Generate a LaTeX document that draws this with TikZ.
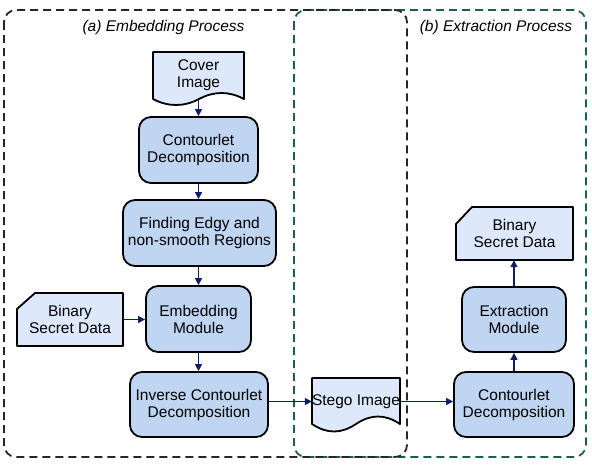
\documentclass[tikz,border=0pt]{standalone}
\usepackage{fontspec}
\setmainfont{Liberation Sans}
\usetikzlibrary{arrows.meta,calc}
\definecolor{boxfill}{RGB}{192,213,241}
\definecolor{docfill}{RGB}{221,233,250}
\definecolor{arrowc}{RGB}{18,28,110}
\definecolor{tealc}{RGB}{25,95,85}
\begin{document}
\begin{tikzpicture}[x=1pt,y=-1pt,
  every node/.style={font=\fontsize{15.5}{17}\selectfont, align=center, text=black},
  proc/.style={draw=black, line width=1.8pt, fill=boxfill, rounded corners=12pt, inner sep=0pt},
  lab/.style={draw=none, inner sep=0pt},
  shapeln/.style={draw=black, line width=1.8pt, fill=docfill, line join=round},
  flow/.style={draw=arrowc, line width=1.4pt, -{Triangle[length=7pt,width=7pt]}},
  bound/.style={dash pattern=on 8pt off 5pt, line width=1.8pt, rounded corners=12pt}]
\useasboundingbox (0,0) rectangle (592,464);
\fill[white] (0,0) rectangle (592,464);

% boundaries
\draw[bound, draw=tealc] (294,10) rectangle (586,457);
\draw[bound, draw=black!85] (4,10) rectangle (407,457);
\node[lab, font=\fontsize{15.5}{17}\selectfont\itshape] (ta) at (163.5,27) {(a) Embedding Process};
\node[lab, font=\fontsize{15.5}{17}\selectfont\itshape] (tb) at (496,27) {(b) Extraction Process};

% document and card shapes
\path[shapeln] (153,52) -- (244,52) -- (244,99) .. controls (229,91) and (214,91) .. (199,99)
  .. controls (184,107) and (168,107) .. (153,99) -- cycle;
\path[shapeln] (312,378) -- (400,378) -- (400,424) .. controls (385,414) and (371,414) .. (356,424)
  .. controls (341,434) and (327,434) .. (312,424) -- cycle;
\path[shapeln] (35,293) -- (123,293) -- (123,346) -- (17,346) -- (17,309) -- cycle;
\path[shapeln] (472,207) -- (573,207) -- (573,260) -- (456,260) -- (456,224) -- cycle;

% labels of shapes
\node[lab, minimum width=91pt, minimum height=47pt] (cover) at (198.5,75.5) {Cover\\Image};
\node[lab, minimum width=88pt, minimum height=46pt] (stego) at (356,401.5) {Stego Image};
\node[lab, minimum width=106pt, minimum height=53pt] (binl) at (70,319.5) {Binary\\Secret Data};
\node[lab, minimum width=117pt, minimum height=53pt] (binr) at (514.5,233.5) {Binary\\Secret Data};

% process boxes
\node[proc, minimum width=119pt, minimum height=66pt] (c1) at (198.5,150) {Contourlet\\Decomposition};
\node[proc, minimum width=153pt, minimum height=66pt] (find) at (199.5,233) {Finding Edgy and\\non-smooth Regions};
\node[proc, minimum width=105pt, minimum height=66pt] (emb) at (198.5,319) {Embedding\\Module};
\node[proc, minimum width=138pt, minimum height=65pt] (inv) at (199,404.5) {Inverse Contourlet\\Decomposition};
\node[proc, minimum width=120pt, minimum height=65pt] (c2) at (514,404.5) {Contourlet\\Decomposition};
\node[proc, minimum width=104pt, minimum height=65pt] (ext) at (514,319.5) {Extraction\\Module};

% connectors
\draw[flow] (cover.south) -- (cover.south |- c1.north);
\draw[flow] (c1.south) -- (c1.south |- find.north);
\draw[flow] (find.south -| emb.north) -- (emb.north);
\draw[flow] (binl.east) -- (binl.east -| emb.west);
\draw[flow] (emb.south) -- (emb.south |- inv.north);
\draw[flow] (inv.east |- stego.west) -- (stego.west);
\draw[flow] (stego.east) -- (stego.east -| c2.west);
\draw[flow] (c2.north) -- (c2.north |- ext.south);
\draw[flow] (ext.north) -- (ext.north |- binr.south);
\end{tikzpicture}
\end{document}
